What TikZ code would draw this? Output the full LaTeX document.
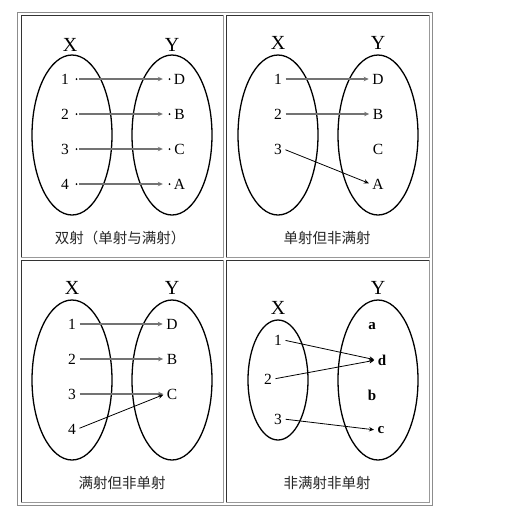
\documentclass[tikz,border=0pt]{standalone}
\usepackage{fontspec}
\setmainfont{Liberation Serif}
\newfontfamily\cjkfont{Noto Sans CJK SC}
\usetikzlibrary{arrows.meta,shapes.geometric}
\tikzset{
    %Define standard arrow tip
    >={Stealth[length=5pt,width=4.5pt]},
    %Define style for the sets
    setbox/.style={
           ellipse,
           draw=black, line width=1.3pt,
           minimum width=80pt,
           minimum height=160pt,
           inner sep=0pt},
    smallset/.style={
           setbox,
           minimum width=60pt,
           minimum height=120pt},
    setname/.style={
           font=\fontsize{20}{20}\selectfont,
           inner sep=0pt},
    elem/.style={
           font=\fontsize{15.5}{15.5}\selectfont,
           inner sep=1.5pt},
    belem/.style={
           font=\fontsize{15}{15}\selectfont\bfseries,
           inner sep=1.5pt},
    dot/.style={
           circle,
           fill=black,
           inner sep=0pt,
           minimum size=2pt},
    caption/.style={
           font=\cjkfont\fontsize{14.5}{15}\selectfont,
           text=black!85},
    % Define arrow styles
    map/.style={
           ->,
           draw=black!55, line width=1.5pt,
           shorten <=2pt,
           shorten >=2pt},
    thinmap/.style={
           ->,
           draw=black, line width=0.8pt,
           shorten <=2pt,
           shorten >=2pt}
}
% frame of one table cell: top/left dark, bottom/right light
\newcommand{\cellframe}[4]{%
  \draw[black!80, line width=0.8pt] (#1,#4) |- (#3,#2);
  \draw[black!40, line width=0.8pt] (#3,#2) |- (#1,#4);}

\begin{document}
\begin{tikzpicture}[x=1pt,y=-1pt]
\useasboundingbox (0,0) rectangle (524,509);

% table and cells
\draw[black!45, line width=0.8pt] (17,12) rectangle (432,505);
\cellframe{21}{15}{223}{257}
\cellframe{226}{15}{429}{257}
\cellframe{21}{260}{223}{502}
\cellframe{226}{260}{429}{502}

% bijection
\node[setname] (X1) at (70,45) {X};
\node[setname] (Y1) at (172,45) {Y};
\node[setbox] (setX1) at (72,135) {};
\node[setbox] (setY1) at (172,135) {};
\foreach \n/\l/\y in {1/D/79,2/B/114,3/C/149,4/A/184} {
  \node[elem] (a\n) at (65,\y) {\n};
  \node[dot] (pa\n) at (76.5,\y) {};
  \node[dot] (pa\l) at (169.5,\y) {};
  \node[elem] (a\l) at (179.5,\y) {\l};
  \draw[map, shorten <=1.5pt, shorten >=5.5pt] (pa\n) -- (pa\l);
}
\node[caption] (cap1) at (120,238) {双射（单射与满射）};

% injective, not surjective
\node[setname] (X2) at (278,43) {X};
\node[setname] (Y2) at (378,43) {Y};
\node[setbox] (setX2) at (278,135) {};
\node[setbox] (setY2) at (378,135) {};
\node[elem] (b1) at (278,79) {1};
\node[elem] (b2) at (278,114) {2};
\node[elem] (b3) at (278,149) {3};
\node[elem] (bD) at (378,79) {D};
\node[elem] (bB) at (378,114) {B};
\node[elem] (bC) at (378,149) {C};
\node[elem] (bA) at (378,184) {A};
\draw[map] (b1.east) -- (bD.west);
\draw[map] (b2.east) -- (bB.west);
\draw[thinmap] (b3.east) -- (bA.west);
\node[caption] (cap2) at (327,238) {单射但非满射};

% surjective, not injective
\node[setname] (X3) at (72,288) {X};
\node[setname] (Y3) at (172,288) {Y};
\node[setbox] (setX3) at (72,380) {};
\node[setbox] (setY3) at (172,380) {};
\node[elem] (c1) at (72,324) {1};
\node[elem] (c2) at (72,359) {2};
\node[elem] (c3) at (72,394) {3};
\node[elem] (c4) at (72,429) {4};
\node[elem] (cD) at (172,324) {D};
\node[elem] (cB) at (172,359) {B};
\node[elem] (cC) at (172,394) {C};
\draw[map] (c1.east) -- (cD.west);
\draw[map] (c2.east) -- (cB.west);
\draw[map] (c3.east) -- (cC.west);
\draw[thinmap] (c4.east) -- (cC.west);
\node[caption] (cap3) at (122,483) {满射但非单射};

% neither
\node[setname] (X4) at (278,308) {X};
\node[setname] (Y4) at (378,288) {Y};
\node[smallset] (setX4) at (278,380) {};
\node[setbox] (setY4) at (378,380) {};
\node[elem] (d1) at (278,340) {1};
\node[elem] (d2) at (268,379) {2};
\node[elem] (d3) at (278,419) {3};
\node[belem] (da) at (372,326) {a};
\node[belem] (dd) at (382,360) {d};
\node[belem] (db) at (372,395) {b};
\node[belem] (dc) at (381,430) {c};
\path
	(d1.east) edge[thinmap] (dd.west)
	(d2.east) edge[thinmap] (dd.west)
	(d3.east) edge[thinmap] (dc.west);
\node[caption] (cap4) at (327,483) {非满射非单射};
\end{tikzpicture}
\end{document}
